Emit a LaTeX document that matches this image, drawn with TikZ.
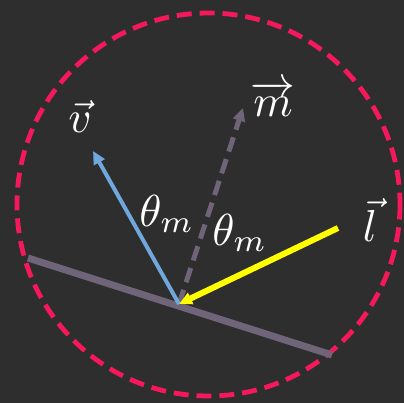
\documentclass[tikz,border=0pt]{standalone}
\usepackage{amsmath,amssymb}
\usetikzlibrary{arrows.meta}
\definecolor{board}{HTML}{2E2E2E}
\definecolor{rim}{HTML}{F5195C}
\definecolor{surf}{HTML}{6F6478}
\definecolor{vblue}{HTML}{6FA8DC}
\definecolor{lyellow}{HTML}{FFFF00}
\tikzset{
  vecarrow/.style={line width=4pt,-{Triangle[length=13pt,width=12pt]}},
  lbl/.style={text=white,inner sep=0pt,scale=4.5}
}

\begin{document}
\begin{tikzpicture}[x=1bp,y=-1bp]
  \useasboundingbox[fill=board] (0,0) rectangle (404,403);
  \coordinate (ctr) at (208.5,204.5);
  \coordinate (s1)  at (28,258);
  \coordinate (s2)  at (332,355);
  \coordinate (hit) at (179,304);
  \coordinate (vtip) at (93,151);
  \coordinate (mtip) at (243,108);
  \coordinate (lsrc) at (338,228);

  % boundary
  \draw[rim,line width=4.8pt,dash pattern=on 15pt off 8pt] (ctr) circle (191.5);
  % surface
  \draw[surf,line width=7pt] (s1)--(s2);
  % normal, view, light
  \draw[vecarrow,surf,line width=5pt,dash pattern=on 15pt off 8pt] (hit)--(mtip);
  \draw[vecarrow,vblue] (hit)--(vtip);
  \draw[vecarrow,lyellow,line width=6pt] (lsrc)--(hit);

  \node[lbl] (vlab) at (80,116)  {$\vec{v}$};
  \node[lbl] (mlab) at (273,99)  {$\overrightarrow{m}$};
  \node[lbl] (llab) at (370,220) {$\vec{l}$};
  \node[lbl] (th1)  at (167,214) {$\theta_m$};
  \node[lbl] (th2)  at (240,233) {$\theta_m$};
\end{tikzpicture}
\end{document}
